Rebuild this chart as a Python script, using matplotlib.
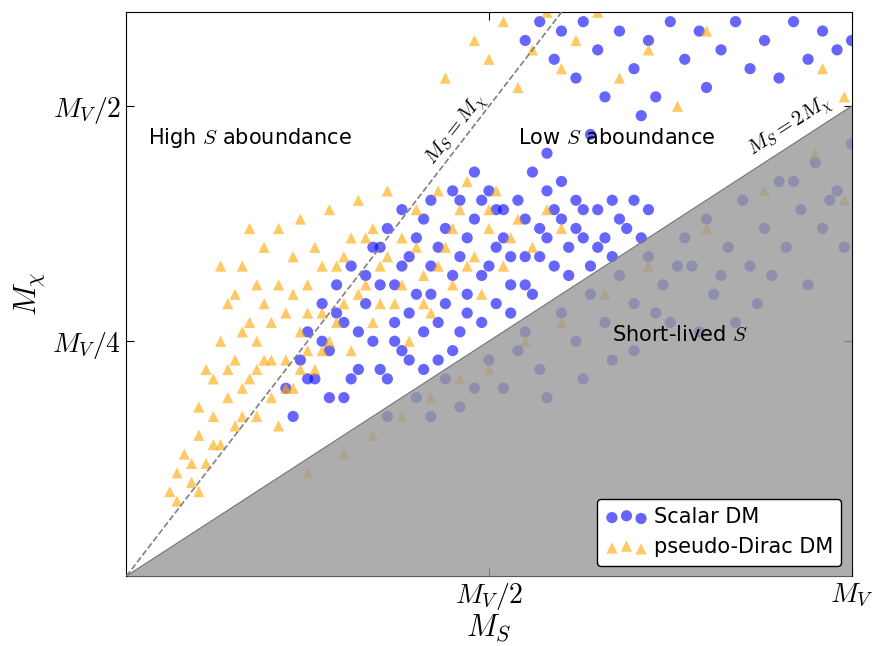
import numpy as np
import matplotlib
matplotlib.use('Agg')
import matplotlib.pyplot as plt

plt.rcParams['mathtext.fontset'] = 'cm'

# scalar DM points (x = M_S / M_V, y = M_chi / M_V)
scalar_x = [0.22,0.24,0.25,0.26,0.27,0.28,0.29,0.30,0.30,0.31,0.32,0.33,0.34,0.34,0.35,0.36,0.36,0.37,0.38,0.38,0.39,0.40,0.40,0.41,0.42,0.42,0.43,0.44,0.44,0.45,0.46,0.46,0.47,0.48,0.49,0.50,0.50,0.51,0.52,0.53,0.54,0.55,0.56,0.57,0.58,0.59,0.60,0.61,0.62,0.63,0.64,0.65,0.66,0.68,0.70,0.72,0.56,0.48,0.60,
            0.23,0.25,0.27,0.28,0.29,0.31,0.32,0.33,0.35,0.35,0.37,0.37,0.39,0.39,0.41,0.41,0.43,0.43,0.45,0.45,0.47,0.47,0.49,0.49,0.51,0.51,0.53,0.53,0.55,0.55,0.57,0.58,0.59,0.61,0.62,0.63,0.65,0.67,0.67,0.69,0.71,0.38,0.42,0.46,0.52,
            0.55,0.57,0.59,0.60,0.62,0.63,0.65,0.66,0.68,0.70,0.72,0.73,0.75,0.77,0.79,0.80,0.82,0.84,0.86,0.88,0.90,0.92,0.94,0.96,0.98,1.0,0.71,0.64,0.58,
            0.36,0.40,0.44,0.46,0.50,0.52,0.55,0.57,0.60,0.62,0.64,0.66,0.68,0.70,0.72,0.74,0.75,0.77,0.78,0.80,0.81,0.83,0.85,0.86,0.88,0.90,0.91,0.93,0.95,0.96,0.98,1.0,0.99,0.94,0.87,0.79,0.70,0.63,
            0.42,0.48,0.54,0.58,0.67,0.73,0.76,0.82,0.84,0.89,0.92,0.97]
scalar_y = [0.20,0.23,0.26,0.21,0.29,0.24,0.31,0.19,0.27,0.33,0.22,0.29,0.35,0.25,0.31,0.37,0.21,0.27,0.33,0.39,0.23,0.30,0.36,0.26,0.40,0.33,0.23,0.29,0.37,0.41,0.26,0.34,0.30,0.38,0.27,0.33,0.41,0.29,0.36,0.31,0.40,0.34,0.30,0.37,0.41,0.33,0.38,0.35,0.40,0.36,0.33,0.39,0.36,0.38,0.40,0.39,0.43,0.43,0.42,
            0.17,0.21,0.25,0.19,0.28,0.21,0.26,0.32,0.22,0.35,0.25,0.31,0.28,0.34,0.22,0.38,0.27,0.35,0.24,0.32,0.28,0.36,0.32,0.40,0.35,0.39,0.28,0.34,0.31,0.38,0.34,0.36,0.39,0.32,0.37,0.39,0.35,0.34,0.40,0.37,0.36,0.24,0.30,0.40,0.39,
            0.57,0.59,0.55,0.58,0.53,0.59,0.56,0.51,0.58,0.54,0.57,0.51,0.59,0.55,0.58,0.52,0.56,0.59,0.54,0.57,0.53,0.59,0.55,0.58,0.56,0.57,0.49,0.47,0.45,
            0.17,0.19,0.21,0.18,0.23,0.20,0.26,0.22,0.28,0.25,0.30,0.27,0.32,0.29,0.34,0.31,0.27,0.36,0.33,0.38,0.30,0.35,0.40,0.33,0.37,0.42,0.35,0.39,0.44,0.37,0.41,0.46,0.35,0.31,0.29,0.26,0.24,0.21,
            0.17,0.20,0.24,0.19,0.23,0.28,0.33,0.32,0.27,0.32,0.42,0.40]

# pseudo-Dirac DM points
dirac_x = [0.06,0.07,0.08,0.09,0.10,0.10,0.11,0.12,0.12,0.13,0.13,0.14,0.14,0.15,0.15,0.16,0.16,0.17,0.17,0.18,0.18,0.19,0.19,0.20,0.20,0.21,0.21,0.22,0.22,0.23,0.23,0.24,0.24,0.25,0.26,0.26,0.27,0.28,0.28,0.29,0.30,0.31,0.31,0.32,0.33,0.34,0.34,0.35,0.36,0.37,0.38,0.39,0.40,0.41,0.42,0.43,0.44,0.45,0.46,0.47,0.48,0.49,0.50,0.51,0.52,0.54,0.56,0.58,0.60,0.11,0.15,0.13,0.18,0.21,
           0.07,0.09,0.10,0.12,0.14,0.16,0.17,0.19,0.20,0.22,0.23,0.25,0.25,0.27,0.29,0.30,0.32,0.33,0.35,0.36,0.38,0.40,0.41,0.43,0.45,0.47,0.50,0.53,0.18,0.24,0.27,0.16,
           0.44,0.48,0.50,0.52,0.54,0.56,0.58,0.60,0.62,0.65,0.68,0.72,0.76,0.80,0.96,0.99,
           0.25,0.30,0.34,0.38,0.42,0.46,0.50,0.55,0.60,0.66,0.72,0.80,0.88,0.95,0.99]
dirac_y = [0.09,0.11,0.13,0.10,0.15,0.18,0.12,0.17,0.21,0.14,0.25,0.19,0.29,0.16,0.23,0.33,0.20,0.27,0.37,0.17,0.31,0.23,0.35,0.27,0.19,0.31,0.37,0.23,0.28,0.34,0.20,0.26,0.38,0.31,0.22,0.35,0.28,0.39,0.25,0.33,0.29,0.36,0.24,0.40,0.31,0.27,0.37,0.33,0.41,0.29,0.36,0.25,0.39,0.32,0.28,0.41,0.35,0.31,0.39,0.42,0.34,0.30,0.37,0.41,0.33,0.38,0.35,0.39,0.37,0.22,0.30,0.33,0.25,0.16,
           0.08,0.12,0.09,0.14,0.22,0.26,0.21,0.29,0.23,0.20,0.30,0.24,0.28,0.33,0.27,0.34,0.30,0.36,0.29,0.34,0.31,0.35,0.29,0.33,0.37,0.33,0.39,0.36,0.22,0.22,0.24,0.17,
           0.53,0.57,0.55,0.59,0.52,0.56,0.60,0.54,0.57,0.60,0.53,0.56,0.50,0.58,0.54,0.51,
           0.11,0.13,0.15,0.17,0.19,0.21,0.22,0.25,0.27,0.30,0.33,0.37,0.41,0.45,0.40]

fig = plt.figure(figsize=(8.77, 6.46), dpi=100)
ax = fig.add_axes([0.144, 0.108, 0.827, 0.873])

ax.scatter(scalar_x, scalar_y, s=65, c='#0000ff', alpha=0.6, edgecolors='none', label='Scalar DM', zorder=2)
ax.scatter(dirac_x, dirac_y, s=65, c='#ffa500', marker='^', alpha=0.6, edgecolors='none', label='pseudo-Dirac DM', zorder=2)

xs = np.array([0, 1])
ax.fill_between(xs, 0, xs / 2, color='#999999', alpha=0.8, zorder=3, lw=0)
ax.plot(xs, xs / 2, color='#777777', lw=1, zorder=4)
ax.plot(xs, xs, color='gray', ls='--', lw=1.2, zorder=4)

ax.set_xlim(0, 1)
ax.set_ylim(0, 0.6)
ax.set_xticks([0.5, 1])
ax.set_xticklabels([r'$M_V/2$', r'$M_V$'], fontsize=20)
ax.set_yticks([0.25, 0.5])
ax.set_yticklabels([r'$M_V/4$', r'$M_V/2$'], fontsize=20)
ax.tick_params(direction='in', length=6, top=True, right=True)
ax.set_xlabel(r'$M_S$', fontsize=22, labelpad=0)
ax.set_ylabel(r'$M_\chi$', fontsize=22)

ax.text(0.03, 0.46, r'High $S$ aboundance', fontsize=15)
ax.text(0.54, 0.46, r'Low $S$ aboundance', fontsize=15)
ax.text(0.67, 0.25, r'Short-lived $S$', fontsize=15, zorder=5)
ax.text(0.455, 0.475, r'$M_S=M_\chi$', fontsize=15, rotation=52, ha='center', va='center')
ax.text(0.915, 0.478, r'$M_S=2M_\chi$', fontsize=15, rotation=33, ha='center', va='center')

leg = ax.legend(loc='lower right', scatterpoints=3, fontsize=15, framealpha=1, edgecolor='black', handletextpad=0.3)
leg.set_zorder(6)

fig.savefig('out.png', dpi=100)
